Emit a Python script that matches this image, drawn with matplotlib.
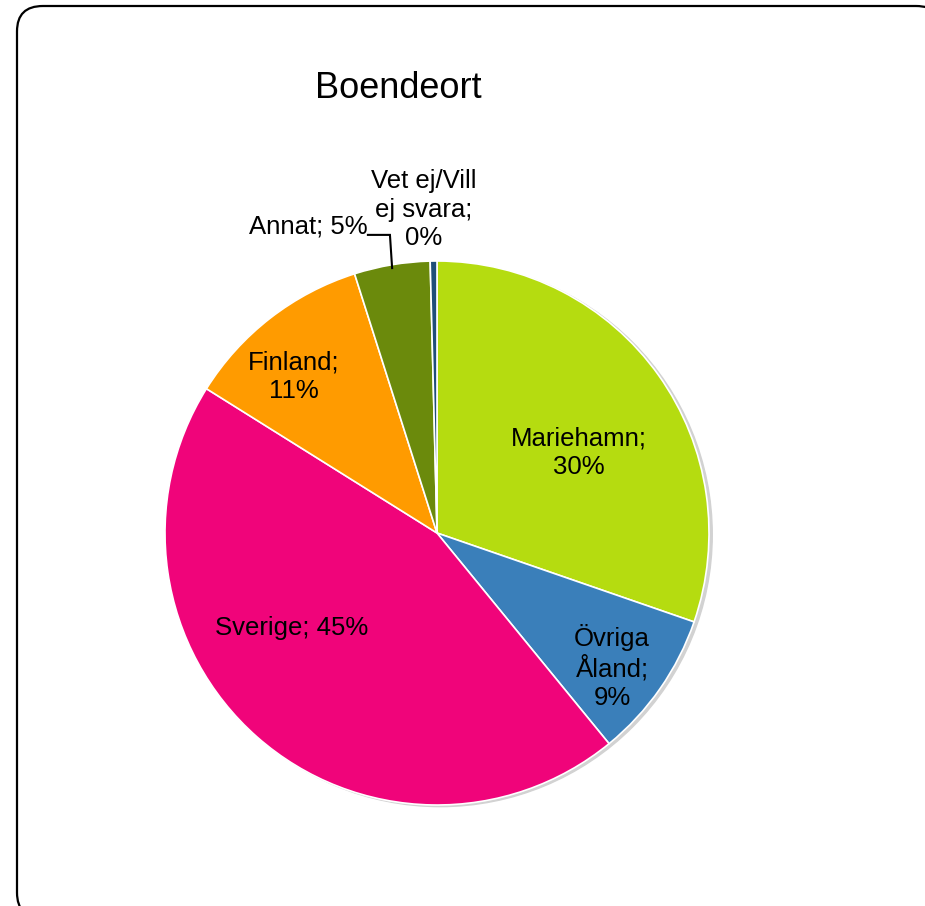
import matplotlib
matplotlib.use("Agg")
import matplotlib.pyplot as plt
from matplotlib.patches import FancyBboxPatch
import numpy as np

plt.rcParams["font.family"] = ["Liberation Sans", "DejaVu Sans"]

categories = ["Mariehamn", "Övriga Åland", "Sverige", "Finland", "Annat", "Vet ej/Vill ej svara"]
shares = [30.3, 8.8, 44.8, 11.2, 4.5, 0.4]
pct_labels = ["30%", "9%", "45%", "11%", "5%", "0%"]
label_texts = ["Mariehamn;\n30%", "Övriga\nÅland;\n9%", "Sverige; 45%",
               "Finland;\n11%", "Annat; 5%", "Vet ej/Vill\nej svara;\n0%"]
colors = ["#b5dc10", "#3a7fba", "#f0047a", "#ff9b00", "#6b8a0c", "#1f4e79"]
# label radius / angle offset relative to the wedge middle
label_pos = [(0.60, -6.1), (0.81, -2.5), (0.64, -15.4), (0.78, 4.8), (1.22, 13.2), (1.19, 1.6)]

W, H = 925, 906
fig = plt.figure(figsize=(W / 100, H / 100), dpi=100)

# rounded frame running off the right/bottom edges
frame = FancyBboxPatch((17 / W, -12 / H), 925 / W, 912 / H,
                       boxstyle="round,pad=0,rounding_size=0.028",
                       transform=fig.transFigure, facecolor="white",
                       edgecolor="black", linewidth=1.6, zorder=-1)
fig.patches.append(frame)

cx, cy, r = 437, 906 - 533, 272
ax = fig.add_axes([(cx - r) / W, (cy - r) / H, 2 * r / W, 2 * r / H])

# faint shadow on the right
shadow = plt.Circle((0.012, -0.006), 1.0, color="#d2d2d2", zorder=0, clip_on=False)
ax.add_patch(shadow)

wedges, _ = ax.pie(shares, colors=colors, startangle=90, counterclock=False,
                   radius=1.0, wedgeprops=dict(edgecolor="white", linewidth=1.2))
ax.set_xlim(-1, 1)
ax.set_ylim(-1, 1)
ax.set_aspect("equal")
ax.axis("off")

for w, txt, (rr, off) in zip(wedges, label_texts, label_pos):
    mid = np.deg2rad((w.theta1 + w.theta2) / 2 + off)
    ax.text(rr * np.cos(mid), rr * np.sin(mid), txt, ha="center", va="center",
            fontsize=18.5, linespacing=1.22, color="black")

# leader line for Annat
ax.plot([-0.254, -0.173, -0.165], [1.096, 1.096, 0.974], color="black", linewidth=1.5,
        solid_joinstyle="miter", clip_on=False)

fig.text(398 / W, 1 - 89 / H, "Boendeort", ha="center", va="center", fontsize=26)

fig.savefig("out.png", dpi=100)
